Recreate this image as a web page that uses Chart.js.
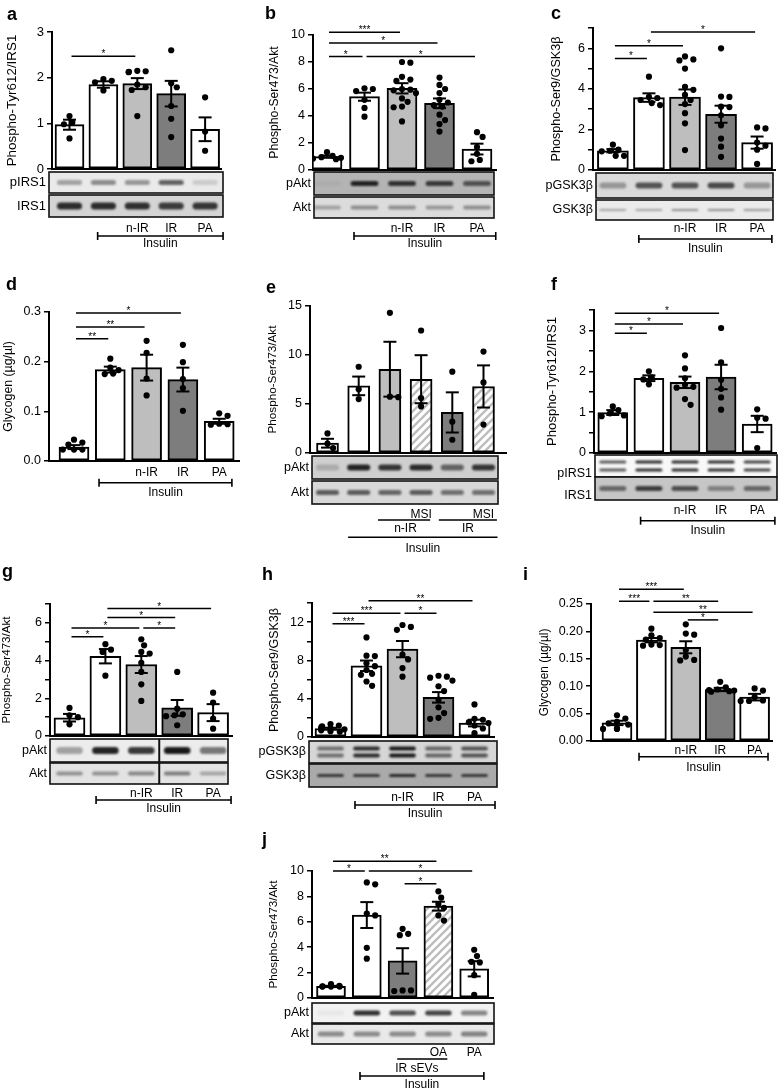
<!DOCTYPE html>
<html>
<head>
<meta charset="utf-8">
<script src="https://cdn.jsdelivr.net/npm/chart.js@4.4.0/dist/chart.umd.min.js"></script>
<style>
body { margin: 0; background: #fff; width: 779px; height: 1090px; overflow: hidden; position: relative; }
canvas { position: absolute; left: 0; top: 0; }
</style>
</head>
<body>
<script>
// ---- data (means, SEM, individual points, significance) ----
const groupLabels = ['n-IR', 'IR', 'PA'];
const msiLabels = ['MSI', 'MSI'];
const eGroupLabels = ['n-IR', 'IR'];
const jLabels = ['OA', 'PA', 'IR sEVs'];
const insulinLabel = 'Insulin';

// a
const aMean = [0.97, 1.85, 1.87, 1.65, 0.87];
const aSem = [0.11, 0.07, 0.12, 0.28, 0.26];
const aDots = [[1.16, 1.02, 0.98, 0.67], [1.97, 1.93, 1.90, 1.72], [2.15, 2.13, 2.14, 2.12, 1.79, 1.73, 1.85, 1.16], [2.6, 1.88, 1.79, 1.38, 1.1, 0.7], [1.57, 0.82, 0.4]];
const aSig = [[0, 2, '*', 2.47]];
const aBlot1 = [0.35, 0.45, 0.4, 0.65, 0.15];
const aBlot2 = [0.9, 0.9, 0.88, 0.82, 0.85];
// b
const bMean = [0.99, 5.43, 6.05, 4.94, 1.55];
const bSem = [0.08, 0.3, 0.38, 0.36, 0.4];
const bDots = [[1.32, 1.05, 0.95, 0.9, 0.85, 0.8], [6.05, 6.0, 5.85, 5.2, 4.6, 3.95], [8.0, 7.95, 6.9, 6.7, 6.6, 6.0, 5.95, 5.9, 5.7, 5.3, 5.05, 4.65, 4.7, 3.6], [6.85, 6.3, 6.0, 5.7, 5.2, 5.0, 4.8, 4.7, 4.1, 3.7, 3.4, 2.85], [2.8, 2.45, 1.7, 1.2, 0.65, 0.75]];
const bSig = [[0, 2, '***', 10.2], [0, 3, '*', 9.4], [0, 1, '*', 8.4], [1, 4, '*', 8.4]];
const bBlot1 = [0.05, 0.95, 0.85, 0.8, 0.65];
const bBlot2 = [0.3, 0.4, 0.4, 0.35, 0.4];
// c
const cMean = [0.95, 3.57, 3.59, 2.75, 1.35];
const cSem = [0.08, 0.21, 0.38, 0.42, 0.3];
const cDots = [[1.25, 1.0, 0.95, 0.92, 0.7, 0.7], [4.6, 3.6, 3.55, 3.45, 3.3, 3.2], [5.6, 5.45, 5.4, 5.0, 4.1, 3.95, 3.7, 3.45, 3.25, 2.8, 2.3, 0.98], [6.0, 3.62, 3.6, 3.12, 3.1, 2.7, 2.2, 1.55, 1.15, 0.65], [2.1, 2.05, 1.2, 1.0, 1.35, 0.3]];
const cSig = [[0, 1, '*', 5.5], [0, 2, '*', 6.13], [1, 4, '*', 6.8]];
const cBlot1 = [0.35, 0.7, 0.7, 0.75, 0.35];
const cBlot2 = [0.35, 0.35, 0.45, 0.45, 0.4];
// d
const dMean = [0.028, 0.184, 0.188, 0.164, 0.08];
const dSem = [0.004, 0.006, 0.026, 0.024, 0.005];
const dDots = [[0.043, 0.037, 0.033, 0.023, 0.023, 0.023], [0.206, 0.188, 0.183, 0.176, 0.175], [0.242, 0.218, 0.166, 0.132], [0.234, 0.199, 0.165, 0.147, 0.101], [0.096, 0.091, 0.075, 0.074, 0.073]];
const dSig = [[0, 1, '**', 0.246], [0, 2, '**', 0.27], [0, 3, '*', 0.298]];
// e
const eMean = [1.0, 6.85, 8.55, 7.53, 4.14, 6.79];
const eSem = [0.45, 0.95, 2.8, 2.45, 2.05, 2.15];
const eDots = [[2.0, 0.5, 0.95], [8.8, 6.5, 5.5], [14.3, 5.7, 5.75], [12.5, 5.6, 4.75], [8.3, 3.2, 1.35], [10.35, 7.2, 2.9]];
const eBlot1 = [0.2, 0.95, 0.85, 0.9, 0.6, 0.85];
const eBlot2 = [0.65, 0.65, 0.6, 0.65, 0.55, 0.55];
// f
const fMean = [0.99, 1.83, 1.73, 1.86, 0.71];
const fSem = [0.06, 0.07, 0.14, 0.3, 0.2];
const fDots = [[1.14, 1.05, 0.97, 0.92, 0.9], [2.0, 1.85, 1.8, 1.68], [2.39, 2.07, 1.83, 1.67, 1.62, 1.6, 1.32, 1.18], [3.06, 2.22, 1.79, 1.57, 1.36, 1.06], [1.07, 0.86, 0.84, 0.12]];
const fSig = [[0, 1, '*', 2.93], [0, 2, '*', 3.16], [0, 3, '*', 3.42]];
const fBlot1 = [0.7, 0.9, 0.9, 0.9, 0.8];
const fBlot2 = [0.55, 0.8, 0.7, 0.4, 0.55];
// g
const gMean = [0.97, 4.23, 3.79, 1.49, 1.24];
const gSem = [0.2, 0.38, 0.45, 0.42, 0.45];
const gDots = [[1.49, 1.1, 1.0, 0.62], [4.87, 4.58, 4.46, 3.2], [5.13, 4.81, 4.46, 4.37, 3.88, 3.4, 2.74, 1.86], [3.4, 1.45, 1.1, 1.05, 1.15, 0.57], [2.3, 1.77, 0.92, 0.39]];
const gSig = [[0, 1, '*', 5.26], [0, 2, '*', 5.73], [2, 3, '*', 5.73], [1, 3, '*', 6.28], [1, 4, '*', 6.76]];
const gBlot1 = [0.35, 0.95, 0.85, 1.0, 0.55];
const gBlot2 = [0.4, 0.4, 0.45, 0.5, 0.3];
// h
const hMean = [0.87, 7.44, 9.18, 4.14, 1.46];
const hSem = [0.1, 0.55, 0.85, 0.55, 0.35];
const hDots = [[1.35, 1.2, 1.1, 1.0, 0.9, 0.8, 0.7, 0.6, 0.55], [10.4, 8.5, 8.45, 7.7, 7.4, 7.0, 6.6, 6.5, 5.8, 5.35], [11.7, 11.5, 11.2, 8.6, 8.1, 7.2, 6.3], [6.4, 6.3, 6.2, 5.9, 5.3, 4.8, 3.9, 3.1, 2.5, 2.0, 1.9], [3.4, 1.9, 1.8, 1.55, 1.45, 1.2, 0.9, 0.4]];
const hSig = [[0, 1, '***', 11.83], [0, 2, '***', 12.94], [2, 3, '*', 12.94], [1, 4, '**', 14.23]];
const hBlot1 = [0.55, 0.9, 1.0, 0.6, 0.7];
const hBlot2 = [0.8, 0.8, 0.9, 0.8, 0.8];
// i
const iMean = [0.033, 0.184, 0.171, 0.094, 0.08];
const iSem = [0.004, 0.004, 0.011, 0.003, 0.006];
const iDots = [[0.047, 0.041, 0.035, 0.032, 0.03, 0.023, 0.022, 0.022], [0.205, 0.193, 0.188, 0.185, 0.176, 0.175, 0.174], [0.213, 0.196, 0.194, 0.166, 0.154, 0.148, 0.147], [0.108, 0.098, 0.094, 0.093, 0.092, 0.091, 0.09], [0.096, 0.092, 0.08, 0.074, 0.073, 0.073]];
const iSig = [[0, 2, '***', 0.277], [0, 1, '***', 0.255], [1, 3, '**', 0.255], [1, 4, '**', 0.235], [2, 3, '*', 0.221]];
// j
const jMean = [0.91, 6.53, 2.92, 7.23, 2.3];
const jSem = [0.05, 1.02, 1.0, 0.35, 0.6];
const jDots = [[1.1, 0.95, 0.92, 0.9, 0.9, 0.9], [9.1, 8.95, 6.65, 6.5, 3.95, 3.1], [5.45, 5.05, 4.95, 0.6, 0.55, 0.6], [8.4, 7.9, 7.4, 7.1, 6.5, 6.1], [3.8, 3.3, 2.85, 2.8, 1.8, 0.25]];
const jSig = [[0, 3, '**', 10.76], [0, 1, '*', 10.0], [1, 4, '*', 10.0], [2, 3, '*', 9.0]];
const jBlot1 = [0.05, 0.9, 0.75, 0.8, 0.5];
const jBlot2 = [0.45, 0.45, 0.45, 0.45, 0.5];

// ---- drawing ----
const W = 779, H = 1090;
const FONT = "'Liberation Sans', Arial, sans-serif";
Chart.defaults.font.family = FONT;
Chart.defaults.color = '#000';

const WH = '#ffffff', LG = '#bebebe', DG = '#7d7d7d';
// white bar with grey diagonal stripes
const HT = (function () {
    const c = document.createElement('canvas');
    c.width = 8; c.height = 8;
    const x = c.getContext('2d');
    x.fillStyle = '#fff';
    x.fillRect(0, 0, 8, 8);
    x.strokeStyle = '#bcbcbc';
    x.lineWidth = 2.3;
    x.beginPath();
    x.moveTo(-2, 10); x.lineTo(10, -2);
    x.moveTo(-6, 6); x.lineTo(6, -6);
    x.moveTo(2, 14); x.lineTo(14, 2);
    x.stroke();
    return x.createPattern(c, 'repeat');
})();

const std = y => [[groupLabels[0], 2, y], [groupLabels[1], 3, y], [groupLabels[2], 4, y]];
const even = v => (Math.round(v) % 2 === 0 ? v : '');

const panels = [
    { letter: 'a', lx: 7, ly: 19.5, title: 'Phospho-Tyr612/IRS1', tx: 12, tfs: 13.4, fs: 13,
      ax: 52, xr: 222, yTop: 32, y0: 169, c0: 69.5, sp: 33.9, bw: 29, max: 3, step: 1, fmt: v => v,
      colors: [WH, WH, LG, DG, WH], mean: aMean, sem: aSem, dots: aDots, sig: aSig,
      blot: { x0: 49, x1: 223, strips: [
          { y0: 172, y1: 193, label: 'pIRS1', bg: 234, bands: aBlot1, bh: 5 },
          { y0: 195, y1: 217, label: 'IRS1', bg: 212, bands: aBlot2, bh: 7 }] },
      texts: std(229), lines: [[0.83, 4.53, 236, true]], ins: [insulinLabel, 243.5] },
    { letter: 'b', lx: 265, ly: 19, title: 'Phospho-Ser473/Akt', tx: 275, tfs: 12.2, fs: 12.5,
      ax: 313, xr: 497, yTop: 35, y0: 170, c0: 327, sp: 37.5, bw: 30, max: 10, step: 2, fmt: v => v,
      colors: [WH, WH, LG, DG, WH], mean: bMean, sem: bSem, dots: bDots, sig: bSig,
      blot: { x0: 314, x1: 494, strips: [
          { y0: 172, y1: 195, label: 'pAkt', bg: 180, bands: bBlot1, bh: 5 },
          { y0: 197, y1: 218, label: 'Akt', bg: 220, bands: bBlot2, bh: 4 }] },
      texts: std(229), lines: [[0.72, 4.5, 236, true]], ins: [insulinLabel, 244] },
    { letter: 'c', lx: 551, ly: 19, title: 'Phospho-Ser9/GSK3β', tx: 557, tfs: 12.6, fs: 12.5,
      ax: 593, xr: 776, yTop: 28, y0: 170, c0: 613, sp: 36.25, bw: 31, max: 7, step: 1, fmt: even,
      colors: [WH, WH, LG, DG, WH], mean: cMean, sem: cSem, dots: cDots, sig: cSig,
      blot: { x0: 596, x1: 773, strips: [
          { y0: 173, y1: 198, label: 'pGSK3β', bg: 218, bands: cBlot1, bh: 6 },
          { y0: 200, y1: 220, label: 'GSK3β', bg: 235, bands: cBlot2, bh: 2 }] },
      texts: std(229), lines: [[0.72, 4.41, 239, true]], ins: [insulinLabel, 249] },
    { letter: 'd', lx: 6, ly: 290, title: 'Glycogen (µg/µl)', tx: 9, tfs: 12.3, fs: 12.5,
      ax: 49, xr: 240, yTop: 312, y0: 461, c0: 74, sp: 36.3, bw: 30, max: 0.3, step: 0.1, fmt: v => v.toFixed(1),
      colors: [WH, WH, LG, DG, WH], mean: dMean, sem: dSem, dots: dDots, sig: dSig,
      texts: std(472.5), lines: [[0.69, 4.35, 482.7, true]], ins: [insulinLabel, 492.5] },
    { letter: 'e', lx: 266, ly: 293, title: 'Phospho-Ser473/Akt', tx: 273, tfs: 11.7, fs: 12.5,
      ax: 310, xr: 507, yTop: 306, y0: 453, c0: 327.5, sp: 31.2, bw: 22, max: 15, step: 5, fmt: v => v,
      colors: [WH, WH, LG, HT, DG, HT], mean: eMean, sem: eSem, dots: eDots, sig: [],
      blot: { x0: 312, x1: 498, strips: [
          { y0: 456, y1: 479, label: 'pAkt', bg: 207, bands: eBlot1, bh: 6 },
          { y0: 481, y1: 504, label: 'Akt', bg: 216, bands: eBlot2, bh: 5 }] },
      texts: [[msiLabels[0], 3, 514.5], [msiLabels[1], 5, 514.5], [eGroupLabels[0], 2.5, 529], [eGroupLabels[1], 4.5, 529]],
      lines: [[1.62, 3.29, 520, false], [3.57, 5.43, 520, false], [0.66, 5.45, 537.3, false]], ins: [insulinLabel, 549] },
    { letter: 'f', lx: 551, ly: 290, title: 'Phospho-Tyr612/IRS1', tx: 552, tfs: 13.1, fs: 12.5,
      ax: 594, xr: 777, yTop: 310, y0: 453, c0: 613, sp: 36.5, bw: 30, max: 3.5, step: 0.5,
      fmt: v => (Math.abs(v - Math.round(v)) < 1e-6 ? Math.round(v) : ''),
      colors: [WH, WH, LG, DG, WH], mean: fMean, sem: fSem, dots: fDots, sig: fSig,
      blot: { x0: 595, x1: 777, strips: [
          { y0: 455, y1: 477, label: 'pIRS1', bg: 248, bands: fBlot1, bh: 3, double: 4, ly: 474 },
          { y0: 477, y1: 500, label: 'IRS1', bg: 198, bands: fBlot2, bh: 5, ly: 496 }] },
      texts: std(511), lines: [[0.77, 4.49, 520.7, true]], ins: [insulinLabel, 530.5] },
    { letter: 'g', lx: 2, ly: 577, title: 'Phospho-Ser473/Akt', tx: 7, tfs: 11.6, fs: 12.5,
      ax: 50, xr: 233, yTop: 604, y0: 736, c0: 69.5, sp: 35.9, bw: 31, max: 7, step: 1, fmt: even,
      colors: [WH, WH, LG, DG, WH], mean: gMean, sem: gSem, dots: gDots, sig: gSig,
      blot: { x0: 50, x1: 228, strips: [
          { y0: 739, y1: 762, label: 'pAkt', bg: 236, bands: gBlot1, bh: 7, split: 2.5 },
          { y0: 763, y1: 784, label: 'Akt', bg: 227, bands: gBlot2, bh: 4, split: 2.5 }] },
      texts: std(793.5), lines: [[0.74, 4.5, 800, true]], ins: [insulinLabel, 808.5] },
    { letter: 'h', lx: 262, ly: 580, title: 'Phospho-Ser9/GSK3β', tx: 275, tfs: 12.5, fs: 12.5,
      ax: 312, xr: 495, yTop: 603, y0: 737, c0: 330.5, sp: 36, bw: 31, max: 14, step: 2,
      fmt: v => (Math.round(v) % 4 === 0 ? v : ''),
      colors: [WH, WH, LG, DG, WH], mean: hMean, sem: hSem, dots: hDots, sig: hSig,
      blot: { x0: 309, x1: 497, strips: [
          { y0: 741, y1: 763, label: 'pGSK3β', bg: 214, bands: hBlot1, bh: 4, double: 3.5 },
          { y0: 764, y1: 787, label: 'GSK3β', bg: 170, bands: hBlot2, bh: 3 }] },
      texts: std(797.5), lines: [[0.68, 4.57, 805, true]], ins: [insulinLabel, 814] },
    { letter: 'i', lx: 523, ly: 580, title: 'Glycogen (µg/µl)', tx: 545, tfs: 11.9, fs: 12.5,
      ax: 591, xr: 773, yTop: 604, y0: 741, c0: 617, sp: 34.4, bw: 30, max: 0.25, step: 0.05, fmt: v => v.toFixed(2),
      colors: [WH, WH, LG, DG, WH], mean: iMean, sem: iSem, dots: iDots, sig: iSig,
      texts: std(751), lines: [[0.64, 4.39, 756.7, true]], ins: [insulinLabel, 767.5] },
    { letter: 'j', lx: 262, ly: 845, title: 'Phospho-Ser473/Akt', tx: 274, tfs: 11.7, fs: 12.5,
      ax: 312, xr: 494, yTop: 871, y0: 998, c0: 331, sp: 35.8, bw: 29, max: 10, step: 2, fmt: v => v,
      colors: [WH, WH, DG, HT, WH], mean: jMean, sem: jSem, dots: jDots, sig: jSig,
      blot: { x0: 312, x1: 494, strips: [
          { y0: 1003, y1: 1023, label: 'pAkt', bg: 242, bands: jBlot1, bh: 5 },
          { y0: 1024, y1: 1044, label: 'Akt', bg: 233, bands: jBlot2, bh: 5 }] },
      texts: [[jLabels[0], 3, 1052.5], [jLabels[1], 4, 1052.5], [jLabels[2], 2.4, 1069]],
      lines: [[1.85, 3.25, 1059, false], [0.81, 4.27, 1076, true]], ins: [insulinLabel, 1085] }
];

function grey(g) { return 'rgb(' + g + ',' + g + ',' + g + ')'; }

function line(ctx, x1, y1, x2, y2) {
    ctx.beginPath(); ctx.moveTo(x1, y1); ctx.lineTo(x2, y2); ctx.stroke();
}

// error bars, significance bars, blots and labels
function decor(P) {
    return {
        id: 'decor_' + P.letter,
        afterDatasetsUpdate(chart) {
            // spread points of one group sideways so they don't sit on top of each other
            const meta = chart.getDatasetMeta(1);
            const src = chart.data.datasets[1].data;
            const xs = chart.scales.x;
            const r = 3.1;
            const lim = P.bw / 2;
            const groups = {};
            meta.data.forEach((el, k) => { (groups[src[k].x] = groups[src[k].x] || []).push(el); });
            Object.keys(groups).forEach(gi => {
                const cx = xs.getPixelForValue(+gi);
                const placed = [];
                groups[gi].slice().sort((p, q) => p.y - q.y).forEach((el, n) => {
                    let off = null;
                    for (let t = 0; t < 24; t++) {
                        const o = t === 0 ? 0 : (t % 2 ? 1 : -1) * Math.ceil(t / 2) * r * 0.9;
                        if (Math.abs(o) > lim) continue;
                        if (placed.every(p => Math.hypot(p.x - (cx + o), p.y - el.y) >= 2 * r + 0.3)) { off = o; break; }
                    }
                    if (off === null) off = ((n % 3) - 1) * lim * 0.6;
                    el.x = cx + off;
                    placed.push({ x: el.x, y: el.y });
                });
            });
        },
        afterDatasetDraw(chart, args) {
            if (args.index !== 0) return;
            const ctx = chart.ctx, xs = chart.scales.x, ys = chart.scales.y;
            ctx.save();
            ctx.strokeStyle = '#000';
            ctx.lineWidth = 2;
            P.mean.forEach((m, i) => {
                const x = xs.getPixelForValue(i);
                const yt = ys.getPixelForValue(m + P.sem[i]);
                const yb = ys.getPixelForValue(m - P.sem[i]);
                line(ctx, x, yt, x, yb);
                line(ctx, x - 6.5, yt, x + 6.5, yt);
                line(ctx, x - 6.5, yb, x + 6.5, yb);
            });
            ctx.restore();
        },
        afterDraw(chart) {
            const ctx = chart.ctx, xs = chart.scales.x, ys = chart.scales.y;
            ctx.save();
            ctx.strokeStyle = '#000';
            ctx.fillStyle = '#000';
            // x baseline
            ctx.lineWidth = 2;
            line(ctx, P.ax - 1, P.y0, P.xr, P.y0);
            // significance
            ctx.lineWidth = 1.5;
            ctx.font = '10px ' + FONT;
            ctx.textAlign = 'center';
            ctx.textBaseline = 'alphabetic';
            P.sig.forEach(s => {
                const y = ys.getPixelForValue(s[3]);
                const x1 = xs.getPixelForValue(s[0]) + 2, x2 = xs.getPixelForValue(s[1]) - 2;
                line(ctx, x1, y, x2, y);
                ctx.fillText(s[2], (x1 + x2) / 2, y + 1);
            });
            // blots
            if (P.blot) {
                const B = P.blot;
                B.strips.forEach(st => {
                    const h = st.y1 - st.y0, cy = (st.y0 + st.y1) / 2;
                    ctx.fillStyle = grey(st.bg);
                    ctx.fillRect(B.x0, st.y0, B.x1 - B.x0, h);
                    ctx.save();
                    ctx.beginPath();
                    ctx.rect(B.x0, st.y0, B.x1 - B.x0, h);
                    ctx.clip();
                    ctx.filter = 'blur(1.2px)';
                    st.bands.forEach((k, i) => {
                        ctx.fillStyle = grey(Math.round(st.bg - (st.bg - 25) * k));
                        const cx = xs.getPixelForValue(i), w = P.sp * 0.74;
                        const yy = st.double ? [cy - st.double, cy + st.double] : [cy];
                        yy.forEach(y => {
                            ctx.beginPath();
                            ctx.roundRect(cx - w / 2, y - st.bh / 2, w, st.bh, st.bh / 2);
                            ctx.fill();
                        });
                    });
                    ctx.restore();
                    ctx.strokeStyle = '#111';
                    ctx.lineWidth = 1.6;
                    ctx.strokeRect(B.x0, st.y0, B.x1 - B.x0, h);
                    if (st.split != null) {
                        ctx.lineWidth = 2;
                        const sx = xs.getPixelForValue(st.split);
                        line(ctx, sx, st.y0, sx, st.y1);
                    }
                    ctx.fillStyle = '#000';
                    ctx.font = P.fs + 'px ' + FONT;
                    ctx.textAlign = 'right';
                    ctx.textBaseline = 'middle';
                    ctx.fillText(st.label, B.x0 - 3, st.ly || cy);
                });
            }
            // group labels and brackets
            ctx.fillStyle = '#000';
            ctx.strokeStyle = '#000';
            ctx.font = '12px ' + FONT;
            ctx.textAlign = 'center';
            ctx.textBaseline = 'middle';
            P.texts.forEach(t => ctx.fillText(t[0], xs.getPixelForValue(t[1]), t[2]));
            ctx.lineWidth = 1.6;
            P.lines.forEach(l => {
                const x1 = xs.getPixelForValue(l[0]), x2 = xs.getPixelForValue(l[1]);
                line(ctx, x1, l[2], x2, l[2]);
                if (l[3]) {
                    line(ctx, x1, l[2] - 4, x1, l[2] + 4);
                    line(ctx, x2, l[2] - 4, x2, l[2] + 4);
                }
            });
            const last = P.lines[P.lines.length - 1];
            ctx.fillText(P.ins[0], xs.getPixelForValue((last[0] + last[1]) / 2), P.ins[1]);
            // y title
            ctx.save();
            ctx.translate(P.tx, (P.yTop + P.y0) / 2);
            ctx.rotate(-Math.PI / 2);
            ctx.font = P.tfs + 'px ' + FONT;
            ctx.fillText(P.title, 0, 0);
            ctx.restore();
            // panel letter
            ctx.font = 'bold 18px ' + FONT;
            ctx.textAlign = 'left';
            ctx.textBaseline = 'alphabetic';
            ctx.fillText(P.letter, P.lx, P.ly);
            ctx.restore();
        }
    };
}

panels.forEach(P => {
    const cv = document.createElement('canvas');
    cv.width = W;
    cv.height = H;
    document.body.appendChild(cv);
    const dots = [];
    P.dots.forEach((arr, i) => arr.forEach(v => dots.push({ x: i, y: v })));
    new Chart(cv, {
        type: 'bar',
        data: {
            datasets: [
                {
                    type: 'bar',
                    data: P.mean.map((v, i) => ({ x: i, y: v })),
                    backgroundColor: P.colors,
                    borderColor: '#000',
                    borderWidth: 2,
                    borderSkipped: false,
                    barThickness: P.bw,
                    order: 2
                },
                {
                    type: 'scatter',
                    data: dots,
                    pointRadius: 3.1,
                    pointBackgroundColor: '#000',
                    pointBorderWidth: 0,
                    order: 1
                }
            ]
        },
        options: {
            responsive: false,
            animation: false,
            events: [],
            layout: { padding: { left: 0, top: P.yTop, right: W - P.xr, bottom: H - P.y0 } },
            plugins: { legend: { display: false }, tooltip: { enabled: false } },
            scales: {
                x: {
                    type: 'linear', display: false, offset: false, bounds: 'data',
                    min: (P.ax - P.c0) / P.sp, max: (P.xr - P.c0) / P.sp
                },
                y: {
                    min: 0,
                    max: P.max,
                    afterFit: s => { s.width = P.ax; },
                    border: { color: '#000', width: 2 },
                    grid: { drawOnChartArea: false, color: '#000', lineWidth: 1.5, tickLength: 5 },
                    ticks: { stepSize: P.step, autoSkip: false, padding: 3, font: { size: P.fs }, callback: P.fmt }
                }
            }
        },
        plugins: [decor(P)]
    });
});
</script>
</body>
</html>
